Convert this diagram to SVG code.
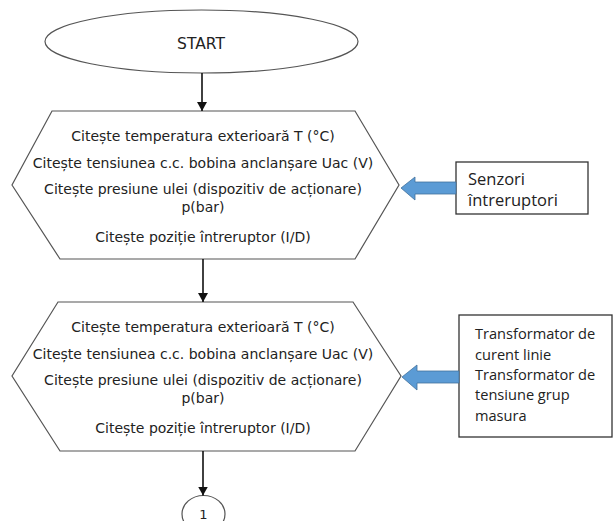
<svg xmlns="http://www.w3.org/2000/svg" width="614" height="521" viewBox="0 0 614 521">
<defs>
<style>
.shape{fill:#fff;stroke:#555;stroke-width:1.2}
.t{font-family:"DejaVu Sans",Verdana,sans-serif;font-size:14px;fill:#222;text-anchor:middle}
.c{font-family:"Open Sans","Noto Sans",sans-serif;font-size:16.5px;fill:#222}
.c2{font-family:"Open Sans","Noto Sans",sans-serif;font-size:14.6px;fill:#222}
.box{fill:#fff;stroke:#333;stroke-width:1.3}
.blue{fill:#5B9BD5;stroke:#41719C;stroke-width:0.8}
.conn{stroke:#111;stroke-width:1.6;fill:none}
</style>
<marker id="ah" markerWidth="10" markerHeight="10" refX="9" refY="5" orient="auto" markerUnits="userSpaceOnUse">
<path d="M0,0 L9,5 L0,10 Z" fill="#111"/>
</marker>
</defs>
<rect width="614" height="521" fill="#fff"/>
<g id="start">
<ellipse class="shape" cx="201.5" cy="41.5" rx="156.5" ry="31.5"/>
<text class="t" x="201" y="49" style="font-size:15.5px">START</text>
</g>
<g id="read1">
<polygon class="shape" points="52,111 355,111 399,185 355,259 60,259 12,185"/>
<text class="t" x="203" y="141">Citește temperatura exterioară T (°C)</text>
<text class="t" x="203" y="168">Citește tensiunea c.c. bobina anclanșare Uac (V)</text>
<text class="t" x="203" y="194">Citește presiune ulei (dispozitiv de acționare)</text>
<text class="t" x="203" y="212">p(bar)</text>
<text class="t" x="203" y="242">Citește poziție întreruptor (I/D)</text>
</g>
<g id="read2">
<polygon class="shape" points="58,302 353,302 401,376 355,451 60,451 12,376"/>
<text class="t" x="203" y="332">Citește temperatura exterioară T (°C)</text>
<text class="t" x="203" y="359">Citește tensiunea c.c. bobina anclanșare Uac (V)</text>
<text class="t" x="203" y="385">Citește presiune ulei (dispozitiv de acționare)</text>
<text class="t" x="203" y="403">p(bar)</text>
<text class="t" x="203" y="433">Citește poziție întreruptor (I/D)</text>
</g>
<g id="sensors">
<rect class="box" x="456" y="162" width="132" height="52"/>
<text class="c" x="468" y="185">Senzori</text>
<text class="c" x="468" y="206">întreruptori</text>
</g>
<g id="transformers">
<rect class="box" x="459" y="315" width="153" height="122"/>
<text class="c2" x="475" y="339">Transformator de</text>
<text class="c2" x="475" y="359.5">curent linie</text>
<text class="c2" x="475" y="380">Transformator de</text>
<text class="c2" x="475" y="400">tensiune grup</text>
<text class="c2" x="475" y="420.5">masura</text>
</g>
<g id="connector1">
<ellipse class="shape" cx="203.5" cy="514" rx="21.5" ry="18.5"/>
<text class="t" x="203.5" y="519" style="font-size:13px">1</text>
</g>
<g id="connectors">
<line class="conn" x1="202" y1="73" x2="202" y2="111" marker-end="url(#ah)"/>
<line class="conn" x1="203" y1="259" x2="203" y2="302" marker-end="url(#ah)"/>
<line class="conn" x1="203" y1="451" x2="203" y2="495.5" marker-end="url(#ah)"/>
<polygon class="blue" points="401,188 415,177 415,182 456,182 456,194 415,194 415,200"/>
<polygon class="blue" points="402,377 417,365 417,371 459,371 459,383 417,383 417,390"/>
</g>
</svg>
